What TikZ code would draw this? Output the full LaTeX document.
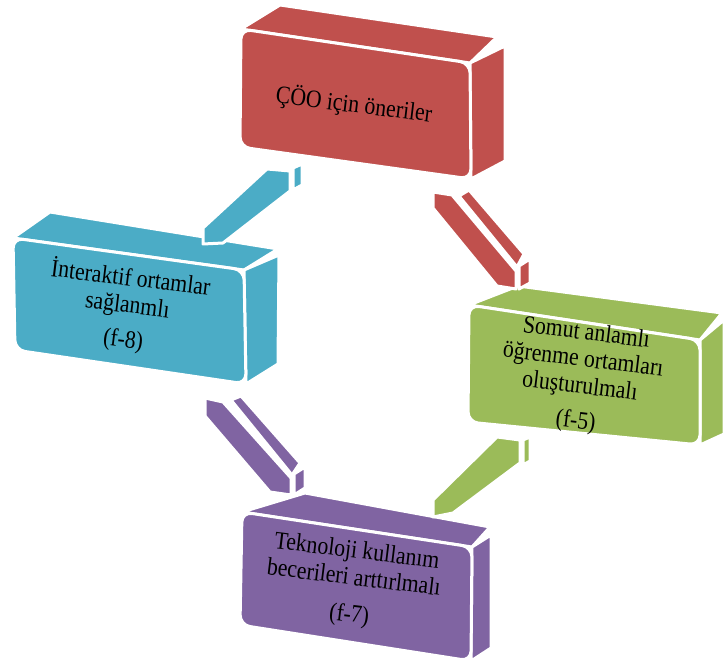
\documentclass[tikz,border=0pt]{standalone}
\usepackage{fontspec}
\setmainfont{Liberation Serif}
\definecolor{boxred}{HTML}{C0504D}
\definecolor{boxcyan}{HTML}{4BACC6}
\definecolor{boxgreen}{HTML}{9BBB59}
\definecolor{boxpurple}{HTML}{8064A2}
\begin{document}
\begin{tikzpicture}[x=1pt,y=-1pt,
  face/.style={fill=#1, draw=white, line width=3pt, line join=round},
  frontface/.style={face=#1, rounded corners=10pt},
  boxtext/.style={align=center, rotate=-7, xscale=0.87, text=black,
    inner sep=0pt, font=\fontsize{25}{27}\selectfont}]
\useasboundingbox (0,0) rectangle (726,663);

% ---- 3D boxes: top face, right face, front face ----
% red box
\fill[face=boxred] (241,29) -- (280,5) -- (497,37) -- (470,63) -- cycle;
\fill[face=boxred] (470,63) -- (505,46) -- (505,161) -- (471,179) -- cycle;
\filldraw[frontface=boxred] (241,29) -- (470,63) -- (471,179) -- (240,147) -- cycle;
% cyan box
\fill[face=boxcyan] (13,238) -- (50,212) -- (278,249) -- (244,270) -- cycle;
\fill[face=boxcyan] (244,270) -- (279,255) -- (278,364) -- (246,384) -- cycle;
\filldraw[frontface=boxcyan] (13,238) -- (244,270) -- (246,384) -- (15,350) -- cycle;
% green box
\fill[face=boxgreen] (469,305) -- (518,286) -- (722,313) -- (700,340) -- cycle;
\fill[face=boxgreen] (700,340) -- (724,320) -- (724,434) -- (700,445) -- cycle;
\filldraw[frontface=boxgreen] (469,305) -- (700,340) -- (700,445) -- (468,422) -- cycle;
% purple box
\fill[face=boxpurple] (242,512) -- (305,493) -- (490,527) -- (472,547) -- cycle;
\fill[face=boxpurple] (472,547) -- (491,535) -- (491,648) -- (471,661) -- cycle;
\filldraw[frontface=boxpurple] (242,512) -- (472,547) -- (471,661) -- (240,625) -- cycle;

% ---- 3D block arrows ----
% red -> green
\filldraw[face=boxred] (433,192) -- (452,195) -- (516,271) -- (516,289) -- (497,286) -- (433,208) -- cycle;
\filldraw[face=boxred] (459,196) -- (469,190) -- (524,254) -- (517,267) -- cycle;
\filldraw[face=boxred] (519,266) -- (530,259) -- (530,283) -- (519,289) -- cycle;
% green -> purple
\filldraw[face=boxgreen] (497,437) -- (520,440) -- (520,463) -- (453,513) -- (433,517) -- (433,500) -- cycle;
\filldraw[face=boxgreen] (523,440) -- (530,437) -- (530,461) -- (523,465) -- cycle;
% purple -> cyan
\filldraw[face=boxpurple] (205,398) -- (223,402) -- (291,478) -- (291,495) -- (270,492) -- (205,416) -- cycle;
\filldraw[face=boxpurple] (231,400) -- (241,396) -- (300,463) -- (292,475) -- cycle;
\filldraw[face=boxpurple] (294,474) -- (305,467) -- (305,488) -- (294,495) -- cycle;
% cyan -> red
\filldraw[face=boxcyan] (267,169) -- (290,171) -- (290,191) -- (223,243) -- (203,244) -- (203,228) -- cycle;
\filldraw[face=boxcyan] (293,168) -- (302,164) -- (302,185) -- (293,190) -- cycle;

% ---- labels ----
\node[boxtext] (oneriler) at (354,105) {ÇÖO için öneriler};
\node[boxtext] (interaktif) at (127,309) {İnteraktif ortamlar\\ sağlanmlı\\[8pt] (f-8)};
\node[boxtext] (somut) at (581,378) {Somut anlamlı\\ öğrenme ortamları\\ oluşturulmalı\\[8pt] (f-5)};
\node[boxtext] (teknoloji) at (353,584) {Teknoloji kullanım\\ becerileri arttırlmalı\\[10pt] (f-7)};
\end{tikzpicture}
\end{document}
